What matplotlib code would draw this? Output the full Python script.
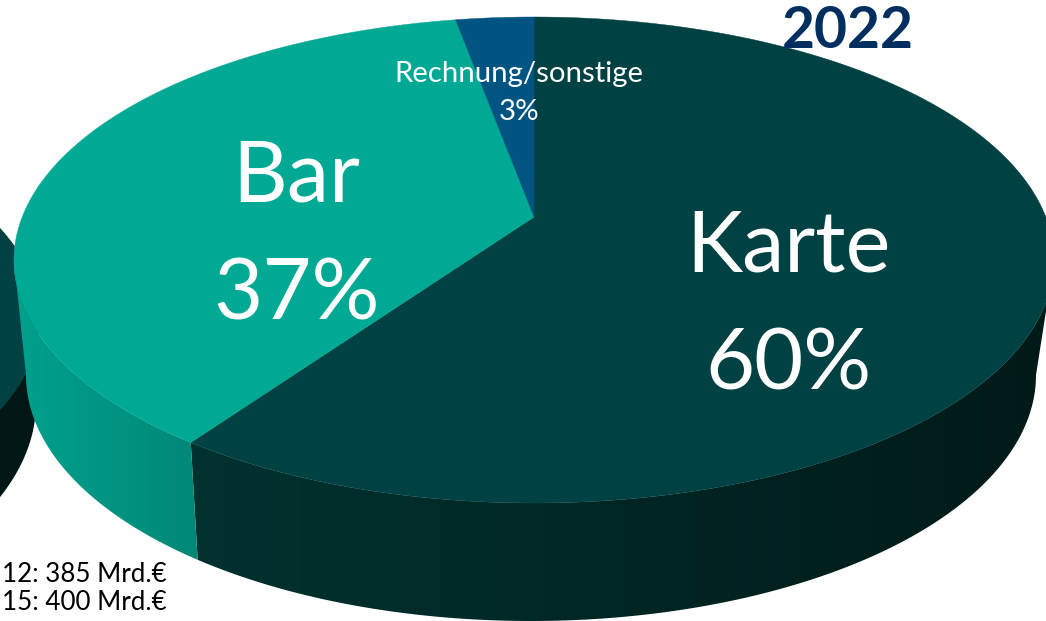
#!/usr/bin/env python3
# -*- coding: utf-8 -*-
import numpy as np
import matplotlib
matplotlib.use('Agg')
import matplotlib.pyplot as plt
from matplotlib.patches import Polygon

plt.rcParams['font.family'] = ['Lato', 'DejaVu Sans']

labels = ['Karte', 'Bar', 'Rechnung/sonstige']
shares = [60, 37, 3]
top_colors = ['#004143', '#00A994', '#005482']
side_colors = [('#00322F', '#001A18'), ('#00A18D', '#008877')]
year = '2022'
notes = ['12: 385 Mrd.€', '15: 400 Mrd.€']

W, H = 1046, 621
# ellipses in pixels: centre x, centre y, half width, half height
TOP = (534, 260, 520, 243)
BOTTOM = (531, 375, 505, 246)
APEX_V = 43 / 243  # how far the pie centre sits above the ellipse centre
SQUEEZE = 0.96     # slices look a bit narrower sideways in the original


def share_to_phi(frac):
    # clockwise from 12 o'clock, tilted so the centre lands on the apex
    t = 2 * np.pi * frac
    u, v = np.sin(t), np.cos(t)
    d = 1 + APEX_V * v
    return np.arctan2((v + APEX_V) / d, SQUEEZE * u * np.sqrt(1 - APEX_V ** 2) / d)


def arc(ell, phi):
    cx, cy, a, b = ell
    return np.column_stack([cx + a * np.cos(phi), cy - b * np.sin(phi)])


fig = plt.figure(figsize=(W / 100, H / 100), dpi=100)
ax = fig.add_axes([0, 0, 1, 1])
ax.set_xlim(0, W)
ax.set_ylim(H, 0)
ax.axis('off')

# the neighbouring pie, cut off by the left edge
phi = np.linspace(-np.pi / 2, np.pi / 2, 200)
ax.add_patch(Polygon(arc((-490, 403, 526, 259), phi), fc='#001716', ec='none', zorder=1))
ax.add_patch(Polygon(arc((-490, 319, 530, 239), phi), fc='#004143', ec='none', zorder=2))

# slice borders on the rim, going clockwise from the top
fracs = np.cumsum([0] + shares) / sum(shares)
phi0 = share_to_phi(0.0)
phi_ends = []
prev = phi0
for f in fracs[1:]:
    p = share_to_phi(f)
    while p > prev:
        p -= 2 * np.pi
    phi_ends.append(p)
    prev = p

# side walls with a horizontal gradient
side_ranges = [(0.0, phi_ends[0]), (phi_ends[0], -np.pi)]
for i, (p1, p2) in enumerate(side_ranges):
    ph = np.linspace(p1, p2, 200)
    pts = np.vstack([arc(TOP, ph), arc(BOTTOM, ph[::-1])])
    poly = Polygon(pts, fc='none', ec='none')
    ax.add_patch(poly)
    x0, x1 = pts[:, 0].min(), pts[:, 0].max()
    rgb0 = np.array(matplotlib.colors.to_rgb(side_colors[i][0]))
    rgb1 = np.array(matplotlib.colors.to_rgb(side_colors[i][1]))
    grad = np.linspace(0, 1, 256)[:, None] * (rgb1 - rgb0) + rgb0
    im = ax.imshow(grad[None, :, :], extent=(x0, x1, H, 0), aspect='auto', zorder=3,
                   interpolation='bilinear')
    im.set_clip_path(poly)
ax.set_xlim(0, W)
ax.set_ylim(H, 0)

# top face
apex = (TOP[0], TOP[1] - APEX_V * TOP[3])
prev = phi0
for i, p in enumerate(phi_ends):
    ph = np.linspace(prev, p, 300)
    pts = np.vstack([[apex], arc(TOP, ph)])
    ax.add_patch(Polygon(pts, fc=top_colors[i], ec=top_colors[i], lw=0.3, zorder=4))
    prev = p

big = dict(color='white', ha='center', va='center', fontsize=61, zorder=5)
ax.text(788, 247, labels[0], **big)
ax.text(789, 366, f'{shares[0]}%', **big)
ax.text(296, 177, labels[1], **big)
ax.text(297, 296, f'{shares[1]}%', **big)

small = dict(color='white', ha='center', va='center', fontsize=21.2, zorder=5)
ax.text(519, 74, labels[2], **small)
ax.text(519, 112, f'{shares[2]}%', **small)

ax.text(848, 32, year, color='#002F5F', ha='center', va='center', fontsize=41,
        fontweight='bold', zorder=6)

for y, note in zip([574, 602], notes):
    ax.text(2, y, note, color='black', ha='left', va='center', fontsize=18.7, zorder=6)

fig.savefig('out.png', dpi=100)
